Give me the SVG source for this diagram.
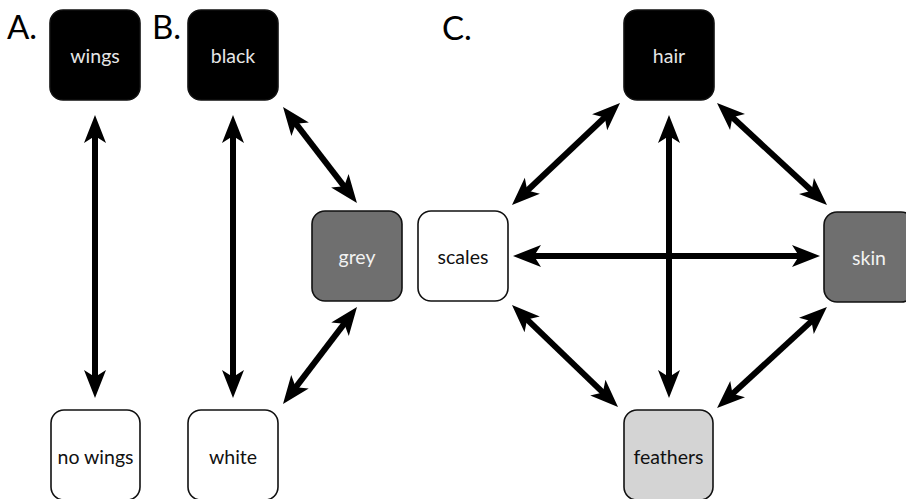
<svg xmlns="http://www.w3.org/2000/svg" width="906" height="499" viewBox="0 0 906 499">
  <defs>
    <marker id="head" viewBox="0 -12 30 24" markerUnits="userSpaceOnUse" markerWidth="30" markerHeight="24" refX="13" refY="0" orient="auto-start-reverse">
      <path d="M0,-11 L28,0 L0,11 L7,0 Z" fill="#000"/>
    </marker>
  </defs>
  <style>
    .box { stroke: #111; stroke-width: 1.6; }
    .dark { fill: #000; }
    .mid { fill: #6f6f6f; }
    .light { fill: #d4d4d4; }
    .white { fill: #fff; }
    .lbl { font-family: Lato, "Open Sans", "Liberation Sans", sans-serif; font-size: 19.5px; text-anchor: middle; dominant-baseline: central; }
    .on-dark { fill: #e6e6e6; }
    .on-mid { fill: #f2f2f2; }
    .on-light { fill: #111; }
    .panel { font-family: Lato, "Open Sans", "Liberation Sans", sans-serif; font-size: 33px; fill: #000; }
    .link { stroke: #000; stroke-width: 6; fill: none; marker-start: url(#head); marker-end: url(#head); }
  </style>

  <rect width="906" height="499" fill="#fff"/>

  <!-- panel letters -->
  <text class="panel" x="7" y="39">A.</text>
  <text class="panel" x="152" y="39">B.</text>
  <text class="panel" x="442" y="40">C.</text>

  <!-- connectors -->
  <g id="connectors">
    <line class="link" x1="95" y1="130" x2="95" y2="383"/>
    <line class="link" x1="233" y1="130" x2="233" y2="383"/>
    <line class="link" x1="292.2" y1="118.9" x2="347.8" y2="191.1"/>
    <line class="link" x1="347.9" y1="318.9" x2="292.1" y2="392.1"/>
    <line class="link" x1="669" y1="130" x2="669" y2="383"/>
    <line class="link" x1="528" y1="256" x2="805" y2="256"/>
    <line class="link" x1="609.1" y1="113.3" x2="522.9" y2="194.7"/>
    <line class="link" x1="728" y1="113.2" x2="816" y2="194.8"/>
    <line class="link" x1="815.9" y1="317.1" x2="728.1" y2="397.9"/>
    <line class="link" x1="522.8" y1="315.4" x2="607.2" y2="396.6"/>
  </g>

  <!-- A -->
  <g id="wings">
    <rect class="box dark" x="50" y="10" width="90" height="90" rx="13"/>
    <text class="lbl on-dark" x="95" y="55">wings</text>
  </g>
  <g id="no-wings">
    <rect class="box white" x="51" y="410" width="89" height="90" rx="13"/>
    <text class="lbl on-light" x="95.5" y="456">no wings</text>
  </g>

  <!-- B -->
  <g id="black">
    <rect class="box dark" x="188" y="10" width="90" height="90" rx="13"/>
    <text class="lbl on-dark" x="233" y="55">black</text>
  </g>
  <g id="white">
    <rect class="box white" x="188" y="410" width="90" height="90" rx="13"/>
    <text class="lbl on-light" x="233" y="456">white</text>
  </g>
  <g id="grey">
    <rect class="box mid" x="312" y="211" width="90" height="90" rx="13"/>
    <text class="lbl on-mid" x="357" y="256">grey</text>
  </g>

  <!-- C -->
  <g id="hair">
    <rect class="box dark" x="624" y="10" width="90" height="90" rx="13"/>
    <text class="lbl on-dark" x="669" y="55">hair</text>
  </g>
  <g id="scales">
    <rect class="box white" x="418" y="211" width="90" height="90" rx="13"/>
    <text class="lbl on-light" x="463" y="256">scales</text>
  </g>
  <g id="skin">
    <rect class="box mid" x="824" y="212" width="90" height="90" rx="13"/>
    <text class="lbl on-mid" x="869" y="257">skin</text>
  </g>
  <g id="feathers">
    <rect class="box light" x="624" y="410" width="89" height="90" rx="13"/>
    <text class="lbl on-light" x="668.5" y="456">feathers</text>
  </g>
</svg>
